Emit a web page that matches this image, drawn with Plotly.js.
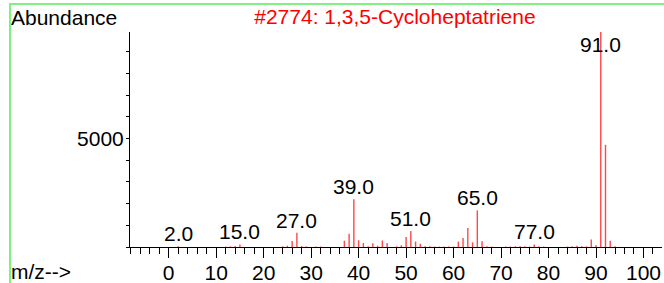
<!DOCTYPE html>
<html>
<head>
<meta charset="utf-8">
<script src="https://cdn.plot.ly/plotly-3.0.1.min.js"></script>
<style>
html,body{margin:0;padding:0;background:#fff;}
#chart{width:664px;height:283px;position:absolute;left:0;top:0;}
#frame{position:absolute;left:9px;top:3px;width:655px;height:280px;border-top:2px solid #80f080;border-left:2px solid #80f080;pointer-events:none;box-sizing:border-box;}
</style>
</head>
<body>
<div id="chart"></div>
<div id="frame"></div>
<script>
// m/z values and abundances
const mz = [2,12,13,14,15,24,25,26,27,28,29,31,32,37,38,39,40,41,42,43,44,45,46,48,49,50,51,52,53,54,55,56,57,58,59,60,61,62,63,64,65,66,67,68,71,72,73,74,75,76,77,78,79,84,85,86,87,88,89,90,91,92,93,94];
const abundance = [30,20,30,50,120,30,60,280,660,40,30,20,20,290,613,2200,310,184,30,175,60,300,180,30,80,460,737,250,150,30,30,20,20,20,20,20,250,415,875,215,1690,260,30,20,20,20,30,40,30,20,120,40,20,20,30,60,40,30,350,80,9920,4714,290,40];
// labelled peaks
const labelMz = [2,15,27,39,51,65,77,91];
const labelText = ["2.0","15.0","27.0","39.0","51.0","65.0","77.0","91.0"];
const chartTitle = "#2774: 1,3,5-Cycloheptatriene";
const yMax = 9920;

const font = "Liberation Sans, Arial, sans-serif";
const fs = 21;
const labAnn = labelMz.map((m,i) => {
  const v = abundance[mz.indexOf(m)];
  return {x:m, y:Math.min(v, yMax*0.885), xref:'x', yref:'y', text:labelText[i],
    showarrow:false, xanchor:'center', yanchor:'bottom', yshift:-1,
    font:{family:font, size:fs, color:'#000'}};
});

// stick spectrum: one vertical segment per m/z, built from the data arrays
const sx = [], sy = [];
mz.forEach((m,i) => { sx.push(m, m, null); sy.push(0, abundance[i], null); });
const trace = {type:'scatter', mode:'lines', x:sx, y:sy, connectgaps:false,
  line:{color:'rgba(255,40,40,0.85)', width:1.4}, hoverinfo:'x+y', cliponaxis:true};

const layout = {
  width:664, height:283,
  margin:{l:130, r:2, t:32, b:36},
  paper_bgcolor:'#fff', plot_bgcolor:'#fff',
  showlegend:false,
  title:{text:chartTitle, x:0.498, xref:'paper', xanchor:'center', y:1-17/283, yref:'container', yanchor:'middle',
    font:{family:font, size:fs, color:'#ff0000'}},
  xaxis:{range:[-8.15,103.9], showgrid:false, zeroline:false, showline:true, linecolor:'#000', linewidth:1,
    tickmode:'linear', tick0:0, dtick:10, ticks:'outside', ticklen:10, tickwidth:1, tickcolor:'#000',
    ticklabelstandoff:-3,
    minor:{tick0:0, dtick:2, ticks:'outside', ticklen:6, tickwidth:1, tickcolor:'#000', showgrid:false},
    tickfont:{family:font, size:fs, color:'#000'}, fixedrange:true},
  yaxis:{range:[0,yMax], showgrid:false, zeroline:false, showline:true, linecolor:'#000', linewidth:1,
    tickmode:'array', tickvals:[5000], ticktext:['5000'], ticks:'outside', ticklen:3, tickwidth:1, tickcolor:'#000',
    ticklabelstandoff:-2,
    minor:{tickmode:'linear', tick0:0, dtick:1000, ticks:'outside', ticklen:3, tickwidth:1, tickcolor:'#000', showgrid:false},
    tickfont:{family:font, size:fs, color:'#000'}, fixedrange:true},
  annotations: labAnn.concat([
    {text:'Abundance', xref:'paper', yref:'paper', x:0, y:1, xanchor:'left', yanchor:'middle', xshift:-121, yshift:15,
     showarrow:false, font:{family:font, size:fs, color:'#000'}},
    {text:'m/z-->', xref:'paper', yref:'paper', x:0, y:0, xanchor:'left', yanchor:'middle', xshift:-121, yshift:-24,
     showarrow:false, font:{family:font, size:fs, color:'#000'}}
  ])
};

Plotly.newPlot('chart', [trace], layout, {displayModeBar:false, staticPlot:true});
</script>
</body>
</html>
